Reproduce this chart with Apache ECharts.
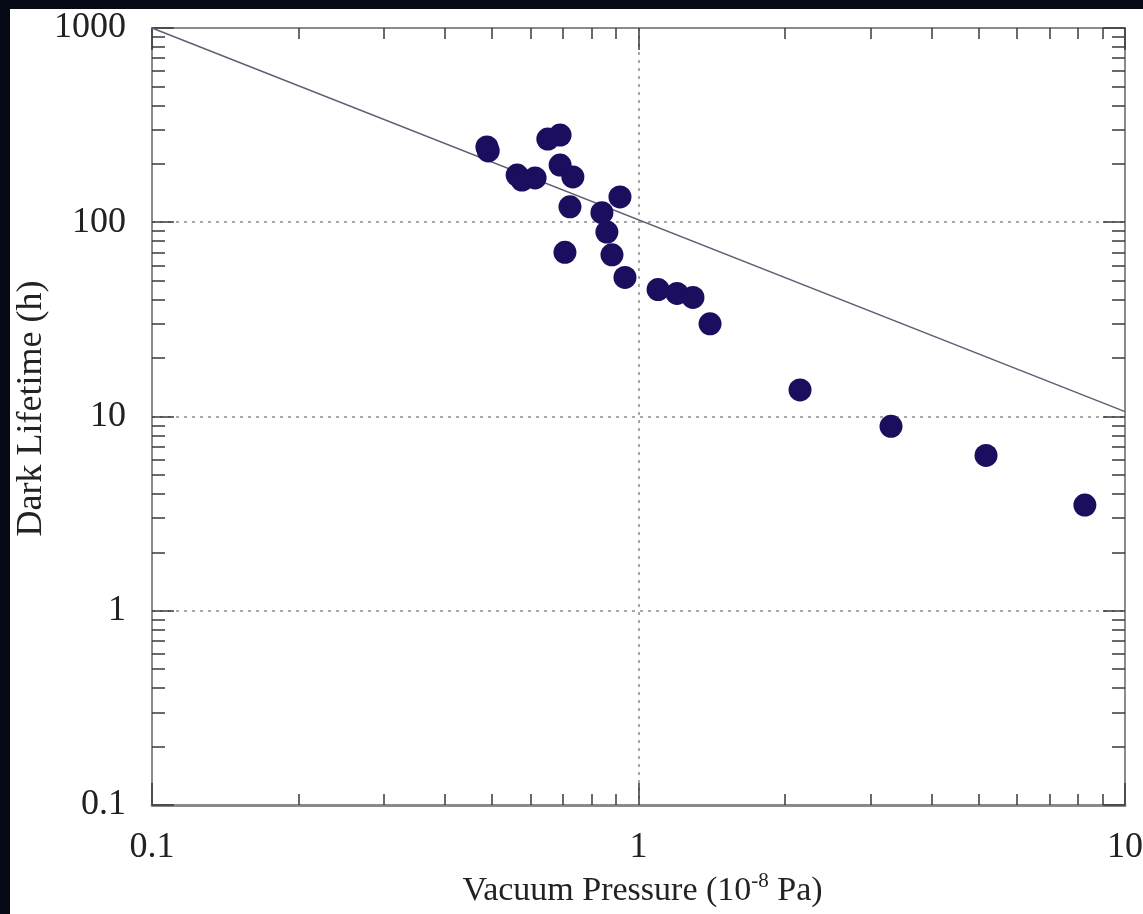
<!DOCTYPE html>
<html>
<head>
<meta charset="utf-8">
<title>Dark Lifetime vs Vacuum Pressure</title>
<script src="https://cdn.jsdelivr.net/npm/echarts@6/dist/echarts.min.js"></script>
<style>
    html, body { margin: 0; padding: 0; background: #050913; width: 1143px; height: 914px; overflow: hidden; }
    #container { position: absolute; left: 10px; top: 9px; width: 1133px; height: 905px; background: #fff; }
</style>
</head>
<body>
<div id="container"></div>
<script>
    // measured points (10^-8 Pa, hours)
    var pressure = [0.488, 0.491, 0.563, 0.576, 0.613, 0.651, 0.690, 0.690, 0.733, 0.723, 0.916, 0.841,
                    0.861, 0.706, 0.882, 0.938, 1.097, 1.20, 1.294, 1.403, 2.148, 3.304, 5.18, 8.27];
    var lifetime = [244, 233, 175, 165, 169, 268, 281, 197, 171, 120, 135, 112,
                    89, 70, 68, 52, 45, 43, 41, 30, 13.7, 8.9, 6.3, 3.5];
    // reference line
    var fitX = [0.1, 10];
    var fitY = [1000, 10.6];

    var xMajor = [0.1, 1, 10];
    var xLabels = ['0.1', '1', '10'];
    var xMinor = [0.2, 0.3, 0.4, 0.5, 0.6, 0.7, 0.8, 0.9, 2, 3, 4, 5, 6, 7, 8, 9];
    var yMajor = [0.1, 1, 10, 100, 1000];
    var yLabels = ['0.1', '1', '10', '100', '1000'];
    var yMinor = [0.2, 0.3, 0.4, 0.5, 0.6, 0.7, 0.8, 0.9, 2, 3, 4, 5, 6, 7, 8, 9,
                  20, 30, 40, 50, 60, 70, 80, 90, 200, 300, 400, 500, 600, 700, 800, 900];

    var font = '"Liberation Serif", "DejaVu Serif", serif';
    var tickColor = '#3a3a3a';

    function lookup(vals, labels) {
        return function (v) {
            for (var i = 0; i < vals.length; i++) {
                if (Math.abs(Math.log10(v) - Math.log10(vals[i])) < 1e-6) return labels[i];
            }
            return '';
        };
    }

    function tickAxis(pos, min, max, values, len) {
        return {
            type: 'log', logBase: 10, position: pos, min: min, max: max, interval: 1,
            axisLine: { show: false },
            axisTick: { show: true, inside: true, length: len, customValues: values,
                        lineStyle: { color: tickColor, width: 1.5 } },
            axisLabel: { show: false },
            splitLine: { show: false }
        };
    }

    var myChart = echarts.init(document.getElementById('container'));
    var pts = pressure.map(function (p, i) { return [p, lifetime[i]]; });
    var fit = fitX.map(function (x, i) { return [x, fitY[i]]; });

    var option = {
        backgroundColor: '#ffffff',
        animation: false,
        grid: { left: 142, right: 18, top: 19, bottom: 109, show: true,
                outerBoundsMode: 'none', containLabel: false,
                borderColor: '#8a8a8a', borderWidth: 2, backgroundColor: 'transparent' },
        xAxis: [
            {
                type: 'log', logBase: 10, position: 'bottom', min: 0.1, max: 10, interval: 1,
                name: 'Vacuum Pressure (10{sup|-8} Pa)',
                nameLocation: 'middle', nameGap: 66, nameMoveOverlap: false,
                nameTextStyle: { fontFamily: font, fontSize: 34, color: '#222', lineHeight: 40,
                                 padding: [0, 0, 0, 8],
                                 rich: { sup: { fontFamily: font, fontSize: 21, color: '#222',
                                                verticalAlign: 'top', lineHeight: 40 } } },
                axisLine: { show: true, lineStyle: { color: '#8a8a8a', width: 3 } },
                axisTick: { show: true, inside: true, length: 22, customValues: xMajor,
                            lineStyle: { color: tickColor, width: 1.5 } },
                axisLabel: { fontFamily: font, fontSize: 36, color: '#222', margin: 25,
                             formatter: lookup(xMajor, xLabels) },
                splitLine: { show: true, lineStyle: { color: '#8c8c8c', type: [3, 5], width: 1.5 } }
            },
            tickAxis('bottom', 0.1, 10, xMinor, 11),
            tickAxis('top', 0.1, 10, xMajor, 22),
            tickAxis('top', 0.1, 10, xMinor, 11)
        ],
        yAxis: [
            {
                type: 'log', logBase: 10, position: 'left', min: 0.1, max: 1000, interval: 1,
                name: 'Dark Lifetime (h)',
                nameLocation: 'middle', nameGap: 102, nameRotate: 90, nameMoveOverlap: false,
                nameTextStyle: { fontFamily: font, fontSize: 36, color: '#222', lineHeight: 36,
                                 padding: [0, 0, 0, 16] },
                axisLine: { show: true, lineStyle: { color: '#8a8a8a', width: 2 } },
                axisTick: { show: true, inside: true, length: 22, customValues: yMajor,
                            lineStyle: { color: tickColor, width: 1.5 } },
                axisLabel: { fontFamily: font, fontSize: 36, color: '#222', margin: 26,
                             formatter: lookup(yMajor, yLabels) },
                splitLine: { show: true, lineStyle: { color: '#8c8c8c', type: [3, 5], width: 1.5 } }
            },
            tickAxis('left', 0.1, 1000, yMinor, 13),
            tickAxis('right', 0.1, 1000, yMajor, 22),
            tickAxis('right', 0.1, 1000, yMinor, 13)
        ],
        series: [
            {
                name: 'fit',
                type: 'line',
                data: fit,
                symbol: 'none',
                lineStyle: { color: '#5c6074', width: 1.5 },
                z: 2
            },
            {
                name: 'data',
                type: 'scatter',
                data: pts,
                symbolSize: 23,
                itemStyle: { color: '#1c0e5e', opacity: 1 },
                z: 3
            }
        ]
    };
    myChart.setOption(option);
</script>
</body>
</html>
